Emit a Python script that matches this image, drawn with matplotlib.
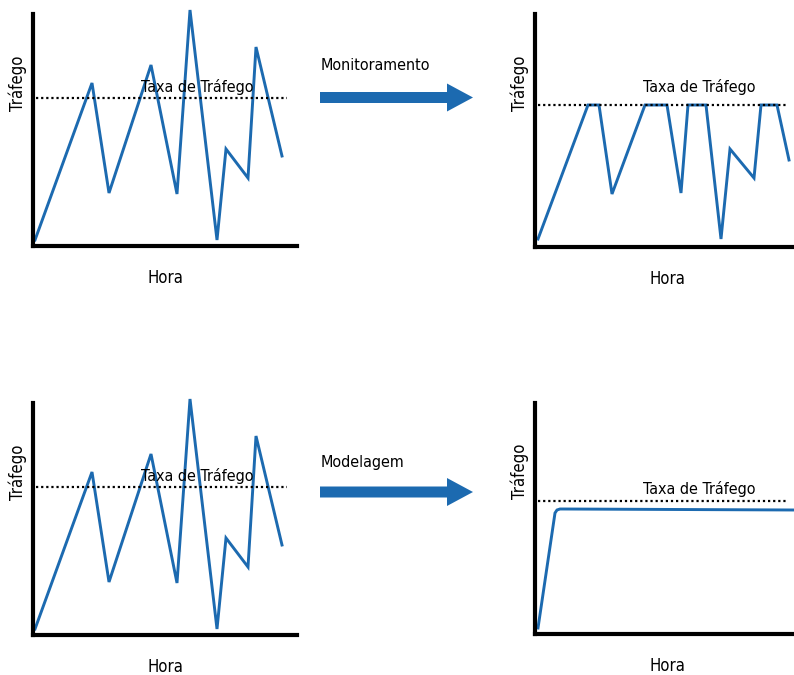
import matplotlib.pyplot as plt
from matplotlib.patches import FancyArrow

plt.rcParams['font.family'] = ['DejaVu Sans']
plt.rcParams['font.stretch'] = 'condensed'

# dados (unidades arbitrárias: hora x tráfego)
hora_orig = [2, 59, 76, 118, 144, 157, 184, 193, 215, 223, 249]
trafego_orig = [6, 163, 53, 181, 52, 236, 6, 97, 68, 199, 90]
taxa_orig = 148

hora_mon = [3, 53, 64, 77, 110, 132, 146, 153, 171, 186, 195, 219, 226, 242, 254]
trafego_mon = [8, 142, 142, 53, 142, 142, 54, 142, 142, 8, 98, 69, 142, 142, 87]
taxa_mon = 142

hora_mod = [3, 20, 22, 25, 28, 259]
trafego_mod = [6, 121, 124, 125, 125, 124]
taxa_mod = 133

azul = '#1c6ab0'
W, H = 794, 675

fig = plt.figure(figsize=(W / 100, H / 100), dpi=100)


def painel(left, bottom, width, height, x, y, taxa, taxa_x, tx, ty):
    ax = fig.add_axes([left / W, (H - bottom) / H, width / W, height / H])
    ax.plot(x, y, color=azul, lw=2.1, clip_on=False, solid_joinstyle='miter')
    ax.plot(taxa_x, [taxa, taxa], color='black', lw=1.6,
            linestyle=(0, (1, 1.3)), clip_on=False)
    ax.text(tx, ty, 'Taxa de Tráfego', ha='center', va='center', fontsize=11.5)
    ax.set_xlim(0, width)
    ax.set_ylim(0, height)
    for s in ['top', 'right']:
        ax.spines[s].set_visible(False)
    for s in ['left', 'bottom']:
        ax.spines[s].set_linewidth(3)
    ax.set_xticks([])
    ax.set_yticks([])
    ax.text(-15, 0.5 * height + 47, 'Tráfego', rotation=90, ha='center',
            va='center', fontsize=12)
    ax.text(132, -32, 'Hora', ha='center', va='center', fontsize=12)
    return ax


painel(33, 246, 264, 232, hora_orig, trafego_orig, taxa_orig, [3, 254], 164, 159)
painel(535, 247, 259, 233, hora_mon, trafego_mon, taxa_mon, [3, 253], 164, 160)
painel(33, 635, 264, 232, hora_orig, trafego_orig, taxa_orig, [3, 254], 164, 159)
painel(535, 634, 259, 231, hora_mod, trafego_mod, taxa_mod, [3, 253], 164, 145)

# setas
ov = fig.add_axes([0, 0, 1, 1])
ov.set_xlim(0, W)
ov.set_ylim(H, 0)
ov.axis('off')
for yc, txt, ty in [(97.5, 'Monitoramento', 65), (492, 'Modelagem', 462)]:
    ov.add_patch(FancyArrow(320, yc, 153, 0, width=11, head_width=28,
                            head_length=26, length_includes_head=True,
                            color=azul, lw=0))
    ov.text(321, ty, txt, ha='left', va='center', fontsize=11.5)

fig.savefig('out.png', dpi=100)
